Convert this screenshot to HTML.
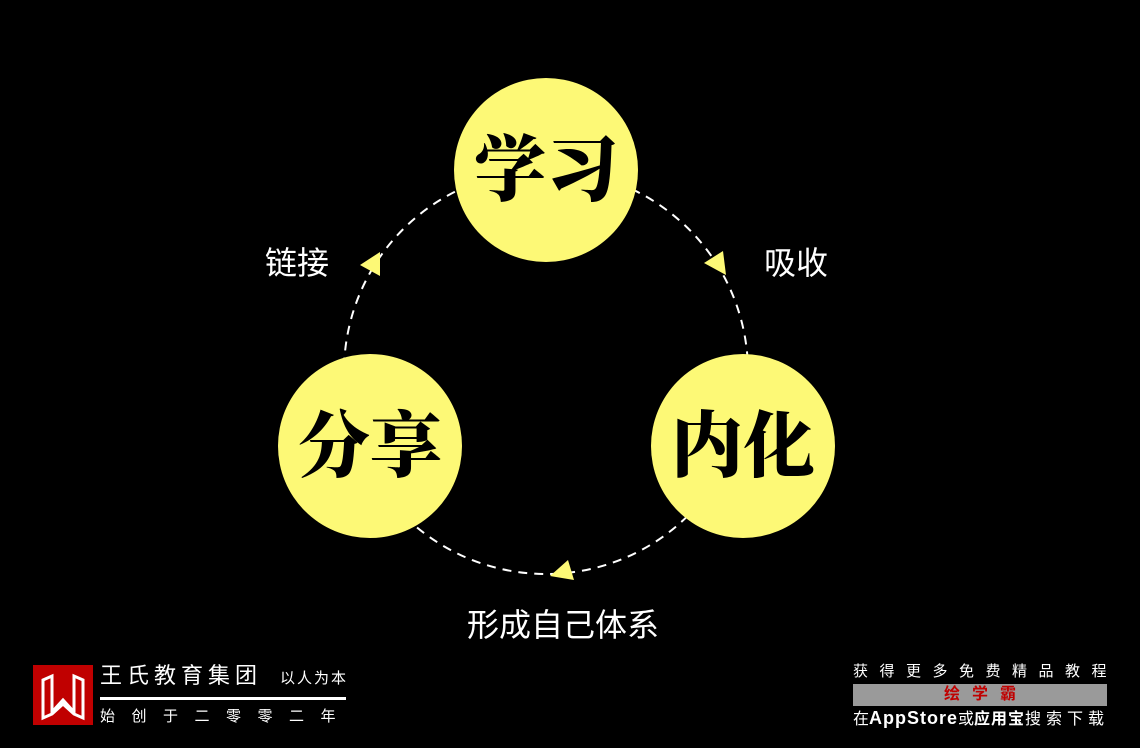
<!DOCTYPE html>
<html><head><meta charset="utf-8"><style>
html,body{margin:0;padding:0;background:#000;}
body{width:1140px;height:748px;position:relative;overflow:hidden;font-family:"Liberation Sans","Noto Sans CJK SC",sans-serif;color:#fff;}
.t{position:absolute;white-space:nowrap;line-height:1;}
</style></head><body>
<svg width="1140" height="748" style="position:absolute;left:0;top:0">
<circle cx="546" cy="372" r="202" fill="none" stroke="#fff" stroke-width="2" stroke-dasharray="9,7"/>
<circle cx="546" cy="170" r="92" fill="#fdf976"/>
<circle cx="370" cy="446" r="92" fill="#fdf976"/>
<circle cx="743" cy="446" r="92" fill="#fdf976"/>
<polygon points="360,265 380,252 380,276" fill="#fdf976"/>
<polygon points="704,263 723,251 726,275" fill="#fdf976"/>
<polygon points="550,576 568,560 574,580" fill="#fdf976"/>
<text x="546" y="195" font-family="Noto Serif CJK SC,serif" font-weight="900" font-size="72" text-anchor="middle" fill="#000">学习</text>
<text x="370" y="471" font-family="Noto Serif CJK SC,serif" font-weight="900" font-size="72" text-anchor="middle" fill="#000">分享</text>
<text x="743" y="471" font-family="Noto Serif CJK SC,serif" font-weight="900" font-size="72" text-anchor="middle" fill="#000">内化</text>
<rect x="33" y="665" width="60" height="60" fill="#c00000"/>
<path d="M43 680 L52 676 L52 712 L63 700 L74 712 L74 676 L83 680 L83 718 L74 714 L63 704 L52 714 L43 718 Z" fill="none" stroke="#fff" stroke-width="3"/>
<rect x="100" y="697" width="246" height="3" fill="#fff"/>
<rect x="853" y="684" width="254" height="22" fill="#9a9a9a"/>
</svg>
<div class="t" style="left:265px;top:247px;font-size:32px">链接</div>
<div class="t" style="left:764px;top:247px;font-size:32px">吸收</div>
<div class="t" style="left:467px;top:609px;font-size:32px">形成自己体系</div>
<div class="t" style="left:100px;top:665px;font-size:22px;letter-spacing:5px">王氏教育集团</div>
<div class="t" style="left:280px;top:671px;font-size:15px;letter-spacing:2px">以人为本</div>
<div class="t" style="left:100px;top:709px;font-size:15px;letter-spacing:16.5px">始创于二零零二年</div>
<div class="t" style="left:853px;top:664px;font-size:15px;letter-spacing:11.5px">获得更多免费精品教程</div>
<div class="t" style="left:853px;top:687px;width:254px;text-align:center;font-size:16px;font-weight:bold;color:#c00000;letter-spacing:12px;text-indent:12px">绘学霸</div>
<div class="t" style="left:853px;top:709px;font-size:16px">在<span style="font-size:18px;font-weight:bold;letter-spacing:1px">AppStore</span>或<b style="letter-spacing:1px">应用宝</b><span style="letter-spacing:5px">搜索下载</span></div>
</body></html>
